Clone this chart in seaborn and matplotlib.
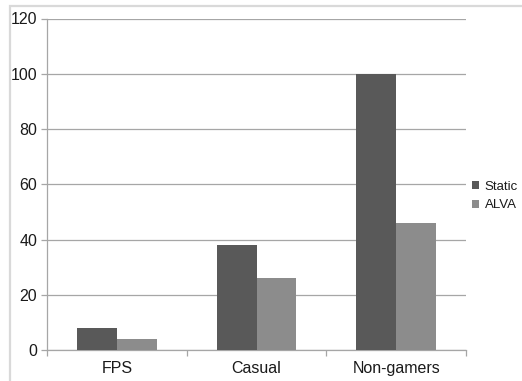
import matplotlib
matplotlib.use("Agg")
import matplotlib.pyplot as plt
import seaborn as sns
import pandas as pd
from matplotlib.patches import Rectangle

categories = ["FPS", "Casual", "Non-gamers"]
series = ["Static", "ALVA"]
static_values = [8, 38, 100]
alva_values = [4, 26, 46]
y_ticks = [0, 20, 40, 60, 80, 100, 120]

df = pd.DataFrame({
    "group": categories * 2,
    "series": [series[0]] * 3 + [series[1]] * 3,
    "value": static_values + alva_values,
})

sns.set_style("white")
plt.rcParams["font.family"] = ["Liberation Sans", "DejaVu Sans"]

fig = plt.figure(figsize=(5.22, 3.81), dpi=100)
ax = fig.add_axes([47 / 522, 1 - 350 / 381, (466 - 47) / 522, (350 - 18.5) / 381])

# outer chart frame (light gray)
fig.patches.append(Rectangle((10 / 522, -0.1), 1.2, 1 - 6 / 381 + 0.1,
                             transform=fig.transFigure, fill=False,
                             edgecolor="#d9d9d9", linewidth=1.6, zorder=0))

palette = {"Static": "#595959", "ALVA": "#8c8c8c"}
sns.barplot(data=df, x="group", y="value", hue="series", order=categories,
            hue_order=series, palette=palette, width=0.572, saturation=1,
            edgecolor="none", linewidth=0, ax=ax, legend=True, zorder=3)

ax.set_xlim(-0.5, 2.5)
ax.set_ylim(0, 120)
ax.set_yticks(y_ticks)
ax.yaxis.grid(True, color="#a6a6a6", linewidth=0.9, zorder=0)
ax.set_axisbelow(True)
ax.set_xlabel("")
ax.set_ylabel("")

for side in ["top", "right"]:
    ax.spines[side].set_visible(False)
for side in ["left", "bottom"]:
    ax.spines[side].set_color("#a6a6a6")
    ax.spines[side].set_linewidth(0.9)

ax.set_xticks([-0.5, 0.5, 1.5, 2.5], minor=True)
ax.tick_params(axis="x", which="major", length=0, pad=8, labelsize=11.5, labelcolor="#1a1a1a")
ax.tick_params(axis="x", which="minor", length=4, width=0.9, color="#a6a6a6", direction="out")
ax.tick_params(axis="y", length=4, width=0.9, color="#a6a6a6", direction="out",
               pad=3, labelsize=11.5, labelcolor="#1a1a1a")
ax.tick_params(left=True, bottom=True)
ax.tick_params(axis="x", which="minor", bottom=True)

leg = ax.legend(loc="center left", bbox_to_anchor=(472 / 522, 1 - 196 / 381),
                bbox_transform=fig.transFigure, frameon=False, fontsize=9.5,
                handlelength=0.55, handleheight=0.55, handletextpad=0.4,
                labelspacing=0.5, borderpad=0, borderaxespad=0)
for t in leg.get_texts():
    t.set_color("#1a1a1a")

fig.savefig("out.png", dpi=100)
